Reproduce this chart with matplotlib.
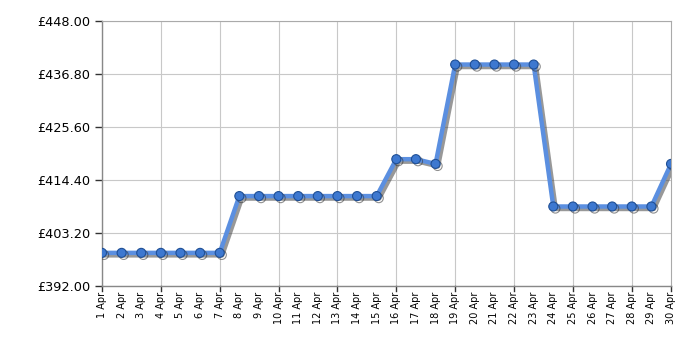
import matplotlib
matplotlib.use("Agg")
import matplotlib.pyplot as plt
import matplotlib.patheffects as pe

days = list(range(1, 31))
labels = [f"{d} Apr" for d in days]
prices = [399.0]*7 + [411.0]*8 + [418.8, 418.8, 417.8] + [438.8]*5 + [408.8]*6 + [417.8]
yticks = [392.0, 403.2, 414.4, 425.6, 436.8, 448.0]

fig = plt.figure(figsize=(7, 3.5), dpi=100)
ax = fig.add_axes([0.1457, 0.1829, 0.8129, 0.7571])

x = list(range(len(days)))
ax.plot(x, prices, color="#5b8fe0", lw=3.2, zorder=3,
        path_effects=[pe.SimpleLineShadow(offset=(1.8, -1.8), shadow_color="#444444", alpha=0.55),
                      pe.Normal()])
ax.plot(x, prices, ls="none", marker="o", ms=6.5, mfc="#3d78d0", mec="#1f4f95", mew=0.8, zorder=4,
        path_effects=[pe.SimpleLineShadow(offset=(1.5, -1.5), shadow_color="#333333", alpha=0.55),
                      pe.Normal()])

ax.set_xlim(0, len(days)-1)
ax.set_ylim(392, 448)
ax.set_yticks(yticks)
ax.set_yticklabels([f"£{v:.2f}" for v in yticks], fontsize=9.3)
ax.set_xticks(x)
ax.set_xticklabels(labels, rotation=90, fontsize=7)

grid_x = [i for i in x if i % 3 == 0]
for gx in grid_x:
    ax.axvline(gx, color="#c8c8c8", lw=0.8, zorder=1)
for gy in yticks:
    ax.axhline(gy, color="#c8c8c8", lw=0.8, zorder=1)

ax.tick_params(axis="x", length=0, pad=4)
ax.tick_params(axis="y", length=5, color="#333333", width=1)
for gx in grid_x + [len(days)-1]:
    ax.plot([gx, gx], [0, -0.02], transform=ax.get_xaxis_transform(), color="#333333", lw=1, clip_on=False)

for s in ["left", "bottom"]:
    ax.spines[s].set_color("#888888")
    ax.spines[s].set_linewidth(1)
for s in ["top", "right"]:
    ax.spines[s].set_color("#aaaaaa")
    ax.spines[s].set_linewidth(0.8)

fig.savefig("out.png", dpi=100)
